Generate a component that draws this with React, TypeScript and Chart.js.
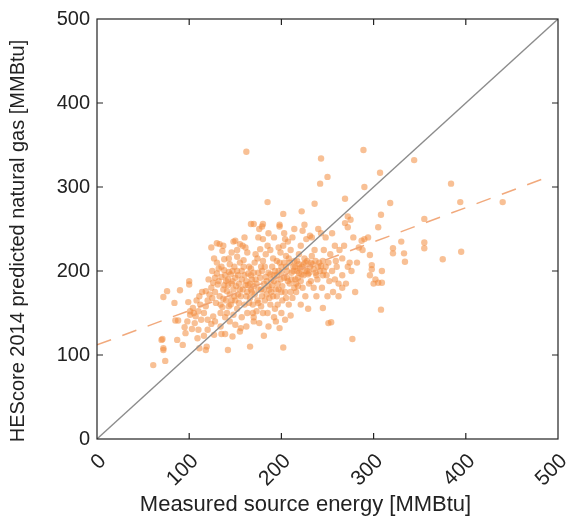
import React, { useEffect, useRef } from "react";
import { Chart, registerables } from "chart.js";

Chart.register(...registerables);

const xTitle = "Measured source energy [MMBtu]";
const yTitle = "HEScore 2014 predicted natural gas [MMBtu]";
const axisMin = 0;
const axisMax = 500;
const tickStep = 100;

const identityLine = [
  { x: 0, y: 0 },
  { x: 500, y: 500 },
];
const regressionLine = [
  { x: 0, y: 112 },
  { x: 492, y: 313 },
];

// [measured, predicted]
const leftPoints = [
  [61, 88], [74, 93], [72, 106], [72, 108], [70, 118], [71, 119], [87, 118], [93, 112], [96, 126],
  [72, 169], [76, 176], [90, 177], [84, 162], [85, 141], [88, 141], [100, 188], [100, 184],
  [101, 152], [101, 148], [109, 120], [98, 140], [105, 150], [95, 133], [107, 146], [104, 156],
  [110, 152], [108, 165], [112, 160], [106, 138], [103, 131], [99, 163], [113, 142], [110, 130],
  [114, 175], [111, 170],
];
const lowerPoints = [
  [111, 108], [118, 106], [119, 110], [142, 106], [166, 110], [202, 109], [135, 125], [139, 125],
  [156, 132], [155, 128], [134, 134], [120, 130], [124, 137], [128, 140], [144, 140], [150, 136],
  [162, 134], [170, 140], [176, 138], [186, 134], [192, 145], [198, 132], [204, 142], [210, 147],
  [116, 123], [127, 124], [147, 122], [181, 123],
];
const clusterA = [
  [116, 150], [118, 158], [120, 165], [122, 172], [118, 176], [124, 180], [126, 186], [128, 192],
  [130, 197], [121, 190], [132, 203], [125, 200], [130, 210], [127, 215], [124, 228], [133, 232],
  [136, 224], [138, 214], [135, 205], [139, 195], [131, 184], [137, 178], [133, 170], [129, 162],
  [136, 157], [134, 150], [139, 145], [126, 146], [120, 142], [140, 165], [140, 188], [138, 201],
];
const clusterB = [
  [141, 150], [143, 158], [146, 165], [144, 172], [148, 178], [142, 183], [147, 188], [150, 192],
  [145, 196], [152, 200], [149, 205], [155, 210], [152, 217], [146, 222], [158, 230], [161, 228],
  [150, 236], [163, 222], [157, 200], [160, 195], [154, 185], [162, 188], [158, 178], [163, 175],
  [156, 170], [160, 160], [152, 155], [165, 162], [148, 148], [157, 145], [163, 150], [144, 208],
  [142, 190], [159, 213], [165, 205], [153, 172], [164, 183],
];
const clusterC = [
  [166, 168], [168, 175], [170, 182], [172, 190], [167, 195], [175, 198], [178, 205], [171, 210],
  [174, 215], [180, 212], [183, 220], [177, 226], [185, 230], [188, 225], [180, 238], [186, 245],
  [176, 250], [170, 145], [173, 152], [178, 158], [182, 165], [175, 162], [184, 172], [187, 178],
  [181, 185], [189, 190], [186, 198], [190, 205], [169, 160], [179, 170], [185, 150], [188, 160],
  [167, 203], [172, 220], [183, 193], [178, 178],
];
const clusterD = [
  [191, 170], [194, 178], [196, 185], [199, 190], [192, 195], [197, 200], [200, 205], [203, 210],
  [195, 212], [205, 218], [208, 215], [199, 222], [210, 225], [202, 230], [207, 235], [212, 240],
  [198, 253], [204, 238], [213, 205], [211, 198], [206, 192], [209, 185], [214, 180], [204, 175],
  [201, 165], [196, 160], [193, 155], [208, 160], [212, 168], [215, 190], [194, 140], [200, 150],
  [206, 200], [214, 212], [191, 215], [197, 228],
];
const clusterE = [
  [216, 175], [218, 182], [221, 188], [224, 195], [217, 200], [222, 205], [226, 210], [219, 208],
  [228, 200], [231, 205], [234, 208], [229, 196], [225, 215], [233, 218], [236, 225], [221, 230],
  [227, 238], [231, 242], [223, 248], [219, 220], [232, 188], [238, 195], [235, 180], [226, 170],
  [221, 160], [229, 155], [238, 170], [240, 205], [218, 192], [237, 212],
];
const clusterF = [
  [242, 200], [245, 195], [248, 205], [251, 210], [255, 200], [258, 190], [262, 185], [266, 195],
  [260, 205], [253, 220], [246, 225], [258, 230], [263, 225], [268, 230], [272, 205], [270, 185],
  [256, 175], [250, 170], [262, 170], [266, 180], [244, 180], [248, 240], [255, 245], [266, 215],
  [274, 210], [240, 250], [252, 188], [259, 212], [245, 212],
];
const corePoints = [
  [125, 168], [128, 175], [132, 188], [135, 193], [138, 183], [141, 176], [143, 199], [146, 185],
  [149, 170], [151, 182], [153, 195], [155, 178], [157, 190], [159, 205], [161, 183], [162, 170],
  [164, 197], [166, 185], [168, 190], [170, 198], [171, 172], [173, 185], [175, 178], [177, 192],
  [179, 200], [181, 178], [182, 205], [184, 188], [186, 182], [188, 196], [190, 183], [192, 188],
  [193, 200], [195, 195], [197, 178], [198, 210], [200, 198], [201, 182], [203, 192], [205, 205],
  [207, 188], [209, 210], [211, 190], [213, 200], [215, 205], [217, 212], [219, 198], [220, 203],
  [222, 196], [224, 208], [226, 200], [228, 212], [230, 198], [232, 210], [235, 202], [237, 198],
  [239, 190], [241, 210], [243, 206], [246, 200], [249, 195], [134, 160], [137, 167], [145, 160],
  [150, 165], [154, 162], [167, 178], [169, 150], [174, 165], [180, 150], [187, 168], [189, 175],
  [195, 170], [200, 175], [205, 168], [210, 175], [216, 185], [223, 180], [230, 185], [147, 200],
  [143, 215], [152, 225],
];
const upperPoints = [
  [130, 233], [137, 230], [155, 232], [170, 256], [180, 256], [179, 253], [198, 255], [167, 256],
  [185, 282], [202, 268], [222, 271], [203, 245], [214, 250], [225, 255], [192, 240], [175, 240],
  [160, 240], [148, 235], [236, 280], [243, 245], [233, 240],
];
const rightPoints = [
  [269, 286], [272, 265], [275, 261], [269, 257], [305, 252], [272, 252], [287, 236], [290, 238],
  [294, 240], [296, 219], [288, 225], [298, 207], [298, 202], [302, 190], [309, 200], [309, 186],
  [305, 186], [308, 154], [277, 119], [254, 139], [251, 138], [245, 156], [308, 267], [318, 281],
  [355, 262], [330, 235], [355, 234], [355, 227], [395, 223], [375, 214], [321, 227], [321, 221],
  [333, 221], [334, 211], [384, 304], [394, 282], [440, 282], [344, 332], [307, 317], [290, 300],
  [289, 344], [250, 312], [242, 304], [243, 334], [162, 342], [278, 240], [282, 210], [276, 200],
  [284, 228], [296, 195], [300, 185], [280, 175],
];

const allPoints = [
  ...leftPoints, ...lowerPoints, ...clusterA, ...clusterB, ...clusterC, ...clusterD,
  ...clusterE, ...clusterF, ...corePoints, ...upperPoints, ...rightPoints,
];

const FONT = "'Liberation Sans', Arial, sans-serif";

const boxPlugin = {
  id: "boxTicks",
  afterDatasetsDraw(chart: any) {
    const { ctx, chartArea, scales } = chart;
    const xs = scales.x;
    const ys = scales.y;
    const len = 6;
    ctx.save();
    ctx.strokeStyle = "#222";
    ctx.lineWidth = 1.2;
    ctx.strokeRect(chartArea.left, chartArea.top, chartArea.right - chartArea.left, chartArea.bottom - chartArea.top);
    ctx.beginPath();
    for (let v = axisMin + tickStep; v < axisMax; v += tickStep) {
      const px = xs.getPixelForValue(v);
      ctx.moveTo(px, chartArea.bottom);
      ctx.lineTo(px, chartArea.bottom - len);
      ctx.moveTo(px, chartArea.top);
      ctx.lineTo(px, chartArea.top + len);
      const py = ys.getPixelForValue(v);
      ctx.moveTo(chartArea.left, py);
      ctx.lineTo(chartArea.left + len, py);
      ctx.moveTo(chartArea.right, py);
      ctx.lineTo(chartArea.right - len, py);
    }
    ctx.stroke();

    // axis titles
    ctx.fillStyle = "#222";
    ctx.textAlign = "center";
    ctx.textBaseline = "middle";
    ctx.font = `22px ${FONT}`;
    const cx = (chartArea.left + chartArea.right) / 2 - 22;
    ctx.fillText(xTitle, cx, chart.height - 16);
    ctx.save();
    ctx.font = `20px ${FONT}`;
    const cy = (chartArea.top + chartArea.bottom) / 2 + 12;
    ctx.translate(18, cy);
    ctx.rotate(-Math.PI / 2);
    ctx.fillText(yTitle, 0, 0);
    ctx.restore();
    ctx.restore();
  },
};

export default function App() {
  const ref = useRef<HTMLCanvasElement>(null);
  useEffect(() => {
    document.body.style.margin = "0";
    const chart = new Chart(ref.current!, {
      type: "scatter",
      data: {
        datasets: [
          {
            data: identityLine,
            showLine: true,
            borderColor: "rgba(140,140,140,1)",
            borderWidth: 1.3,
            pointRadius: 0,
            order: 0,
          },
          {
            data: regressionLine,
            showLine: true,
            borderColor: "rgba(240,160,110,0.9)",
            borderWidth: 1.5,
            borderDash: [15, 12],
            pointRadius: 0,
            order: 0,
          },
          {
            data: allPoints.map(([x, y]) => ({ x, y })),
            backgroundColor: "rgba(242,140,62,0.55)",
            borderWidth: 0,
            pointRadius: 3.2,
            order: 1,
          },
        ],
      },
      options: {
        animation: false,
        responsive: true,
        maintainAspectRatio: false,
        layout: { padding: { left: 0, right: 15, top: 19, bottom: 0 } },
        plugins: { legend: { display: false }, tooltip: { enabled: false } },
        scales: {
          x: {
            type: "linear",
            min: axisMin,
            max: axisMax,
            grid: { display: false, drawTicks: false },
            border: { display: false },
            ticks: {
              stepSize: tickStep,
              minRotation: 45,
              maxRotation: 45,
              padding: 10,
              labelOffset: 6,
              color: "#222",
              font: { family: FONT, size: 21 },
            },
            afterFit: (s: any) => {
              s.height = 82;
              s.paddingLeft = 0;
              s.paddingRight = 0;
            },
          },
          y: {
            type: "linear",
            min: axisMin,
            max: axisMax,
            grid: { display: false, drawTicks: false },
            border: { display: false },
            ticks: {
              stepSize: tickStep,
              padding: 7,
              color: "#222",
              font: { family: FONT, size: 20 },
            },
            afterFit: (s: any) => {
              s.width = 97;
            },
          },
        },
      },
      plugins: [boxPlugin],
    });
    return () => chart.destroy();
  }, []);
  return (
    <div style={{ width: 573, height: 521, position: "relative" }}>
      <canvas ref={ref} />
    </div>
  );
}
